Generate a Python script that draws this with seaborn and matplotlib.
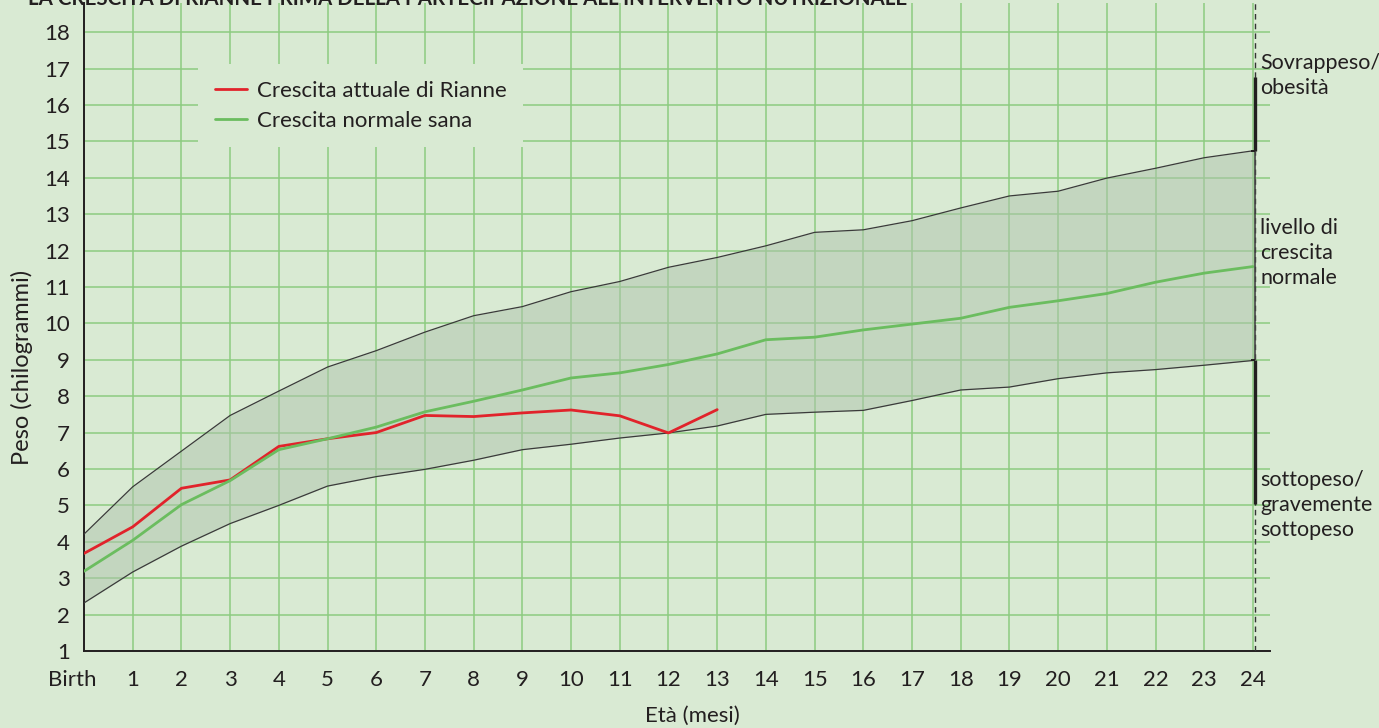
import pandas as pd
import seaborn as sns
import matplotlib.pyplot as plt
import matplotlib.transforms as mtransforms

# --- data (weight in kg per month of age) ---
months = list(range(0, 25))
month_labels = ['Birth'] + [str(m) for m in range(1, 25)]

upper_band = [4.21, 5.51, 6.49, 7.47, 8.14, 8.80, 9.25, 9.76, 10.21, 10.46,
              10.87, 11.15, 11.54, 11.81, 12.13, 12.50, 12.57, 12.82, 13.17,
              13.50, 13.63, 13.99, 14.26, 14.55, 14.74]
lower_band = [2.32, 3.17, 3.88, 4.50, 5.00, 5.53, 5.79, 5.99, 6.24, 6.53,
              6.68, 6.85, 6.99, 7.18, 7.50, 7.56, 7.61, 7.88, 8.17, 8.25,
              8.48, 8.64, 8.73, 8.85, 8.98]
normal_growth = [3.19, 4.04, 5.02, 5.68, 6.53, 6.83, 7.15, 7.57, 7.86, 8.17,
                 8.50, 8.64, 8.87, 9.16, 9.55, 9.62, 9.82, 9.98, 10.14, 10.44,
                 10.62, 10.82, 11.13, 11.38, 11.56]
rianne_months = list(range(0, 14))
rianne_growth = [3.68, 4.41, 5.47, 5.70, 6.62, 6.83, 7.00, 7.47, 7.44, 7.54,
                 7.62, 7.46, 6.99, 7.63]

# zones marked on the right-hand scale
zone_top = 16.77
zone_bottom = 5.03
zone_labels = ['Sovrappeso/\nobesità', 'livello di\ncrescita\nnormale',
               'sottopeso/\ngravemente\nsottopeso']
zone_label_y = [17.42, 12.9, 5.98]

series_red = 'Crescita attuale di Rianne'
series_green = 'Crescita normale sana'

BG = '#d9ead3'
GRID = '#8dcb80'
BAND = '#afc3ad'
RED = '#e1232b'
GREEN = '#6bbd5f'
INK = '#231f20'

sns.set_theme(style='white')
plt.rcParams['font.family'] = ['Lato', 'DejaVu Sans']

df = pd.concat([
    pd.DataFrame({'mese': rianne_months, 'peso': rianne_growth, 'serie': series_red}),
    pd.DataFrame({'mese': months, 'peso': normal_growth, 'serie': series_green}),
], ignore_index=True)

fig = plt.figure(figsize=(13.79, 7.28), dpi=100, facecolor=BG)
ax = fig.add_axes([84 / 1379, 77 / 728, 1186 / 1379, 648 / 728])
ax.set_facecolor(BG)

# band of normal growth
ax.fill_between(months, lower_band, upper_band, color=BAND, alpha=0.5,
                linewidth=0, zorder=2)
ax.plot(months, upper_band, color='#3a3a3a', lw=0.9, zorder=3)
ax.plot(months, lower_band, color='#3a3a3a', lw=0.9, zorder=3)

sns.lineplot(data=df, x='mese', y='peso', hue='serie',
             hue_order=[series_red, series_green],
             palette={series_red: RED, series_green: GREEN},
             linewidth=2, ax=ax, zorder=4, sort=False)

ax.set_xlim(0, 24.35)
ax.set_ylim(1, 18.8)
ax.set_xticks(months)
ax.set_xticklabels(month_labels)
ax.set_yticks(range(1, 19))
ax.grid(True, color=GRID, lw=1.1, zorder=1)
ax.set_axisbelow(True)
ax.tick_params(axis='x', length=0, pad=14, labelsize=16, labelcolor=INK)
ax.tick_params(axis='y', length=0, pad=10, labelsize=16, labelcolor=INK)

# nudge "Birth" a little to the left, like the original
birth = ax.get_xticklabels()[0]
birth.set_transform(birth.get_transform() +
                    mtransforms.ScaledTranslation(-0.12, 0, fig.dpi_scale_trans))

for side in ['top', 'right']:
    ax.spines[side].set_visible(False)
for side in ['left', 'bottom']:
    ax.spines[side].set_color(INK)
    ax.spines[side].set_linewidth(1.4)

ax.set_xlabel('Età (mesi)', fontsize=16, color=INK)
ax.xaxis.set_label_coords(0.513, -0.085)
ax.set_ylabel('Peso (chilogrammi)', fontsize=17, color=INK)
ax.yaxis.set_label_coords(-0.043, 0.438)

# right-hand scale at 24 months
ax.axvline(24.05, color='#333333', lw=1, ls=(0, (4, 3)), zorder=5)
ax.vlines(24.05, upper_band[-1], zone_top, color=INK, lw=2.4, zorder=6)
ax.vlines(24.05, zone_bottom, lower_band[-1], color=INK, lw=2.4, zorder=6)
ax.vlines(24.05, lower_band[-1], upper_band[-1], color='#444444', lw=1.2, zorder=6)
ax.hlines([upper_band[-1], lower_band[-1]], 23.95, 24.05, color=INK, lw=1.4, zorder=6)
for text, y in zip(zone_labels, zone_label_y):
    ax.text(24.15, y, text, fontsize=15.5, color=INK, va='top', ha='left',
            linespacing=1.32, clip_on=False)

leg = ax.legend(loc='upper left', bbox_to_anchor=(0.096, 0.906), fontsize=16,
                frameon=True, facecolor=BG, edgecolor='none', framealpha=1,
                fancybox=False, handlelength=1.45, handletextpad=0.45,
                borderpad=0.75, borderaxespad=0, labelspacing=0.45, title=None)
for t in leg.get_texts():
    t.set_color(INK)
leg.set_zorder(7)

fig.text(28 / 1379, 1 - 5 / 728,
         "LA CRESCITA DI RIANNE PRIMA DELLA PARTECIPAZIONE ALL'INTERVENTO NUTRIZIONALE",
         fontsize=14.8, fontweight='bold', color=INK, va='baseline', ha='left')

plt.savefig('out.png', dpi=100, facecolor=BG)
